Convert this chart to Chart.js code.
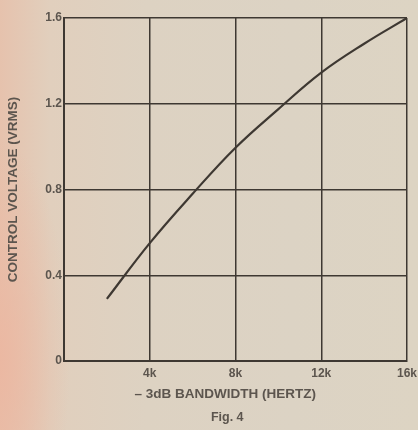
<!DOCTYPE html>
<html>
<head>
<meta charset="utf-8">
<script src="https://cdn.jsdelivr.net/npm/chart.js@4"></script>
<style>
  html, body { margin: 0; padding: 0; }
  body {
    width: 418px; height: 430px; overflow: hidden;
    background:
      radial-gradient(ellipse 70px 220px at 0px 360px, rgba(236,182,160,0.85), rgba(236,182,160,0) 100%),
      linear-gradient(90deg, #e6c2ad 0%, #e1cfbd 12%, #ddd2c2 35%, #dcd3c4 70%, #ddd4c3 100%);
  }
  #wrap { position: relative; width: 418px; height: 430px; }
</style>
</head>
<body>
<div id="wrap"><canvas id="chart" width="418" height="430"></canvas></div>
<script>
// bandwidth (Hz) vs control voltage (Vrms)
const bandwidth = [2000, 4000, 6000, 8000, 10000, 12000, 14000, 16000]
const voltage = [0.29, 0.55, 0.78, 0.995, 1.175, 1.345, 1.48, 1.60]
const xTicks = [4000, 8000, 12000, 16000]
const xTickLabels = ['4k', '8k', '12k', '16k']
const yTicks = [0, 0.4, 0.8, 1.2, 1.6]
const xTitle = '– 3dB BANDWIDTH (HERTZ)'
const figLabel = 'Fig. 4'

const ink = '#3e3832'
const labelInk = '#5c554e'
const font = 'Arial, "Liberation Sans", sans-serif'

// the two captions under the plot sit a bit left of the plot centre
const captions = {
  id: 'captions',
  afterDraw(chart) {
    const c = chart.ctx
    const area = chart.chartArea
    const cx = area.left + (area.right - area.left) * 0.47
    c.save()
    c.fillStyle = labelInk
    c.textAlign = 'center'
    c.textBaseline = 'middle'
    c.font = 'bold 13.5px ' + font
    c.fillText(xTitle, cx, area.bottom + 33)
    c.font = 'bold 12.5px ' + font
    c.fillText(figLabel, cx + 2, area.bottom + 57)
    c.restore()
  }
}

const ctx = document.getElementById('chart').getContext('2d')

new Chart(ctx, {
  type: 'line',
  data: {
    datasets: [{
      data: bandwidth.map((b, i) => ({ x: b, y: voltage[i] })),
      borderColor: ink,
      borderWidth: 2.2,
      pointRadius: 0,
      tension: 0.4,
      fill: false
    }]
  },
  options: {
    responsive: false,
    animation: false,
    layout: { padding: { left: 4, right: 11, top: 18, bottom: 0 } },
    plugins: {
      legend: { display: false },
      tooltip: { enabled: false }
    },
    scales: {
      x: {
        type: 'linear',
        min: 0,
        max: 16000,
        afterBuildTicks: axis => { axis.ticks = xTicks.map(v => ({ value: v })) },
        ticks: {
          callback: v => xTickLabels[xTicks.indexOf(v)],
          color: labelInk,
          font: { family: font, size: 12, weight: 'bold' },
          maxRotation: 0,
          padding: 5
        },
        grid: { color: ink, lineWidth: 1.5, drawTicks: false },
        border: { color: ink, width: 2 },
        afterFit: axis => {
          axis.height = 69
          axis.paddingLeft = 0
          axis.paddingRight = 0
        }
      },
      y: {
        min: 0,
        max: 1.6,
        afterBuildTicks: axis => { axis.ticks = yTicks.map(v => ({ value: v })) },
        ticks: {
          callback: v => String(v),
          color: labelInk,
          font: { family: font, size: 12, weight: 'bold' },
          padding: 2
        },
        grid: { color: ink, lineWidth: 1.5, drawTicks: false },
        border: { color: ink, width: 2 },
        title: {
          display: true,
          text: 'CONTROL VOLTAGE (VRMS)',
          color: labelInk,
          font: { family: font, size: 13.5, weight: 'bold' },
          padding: { top: 1, bottom: 0 }
        },
        afterFit: axis => {
          axis.width = 60
          axis.paddingTop = 0
          axis.paddingBottom = 0
        }
      }
    }
  },
  plugins: [captions]
})
</script>
</body>
</html>
